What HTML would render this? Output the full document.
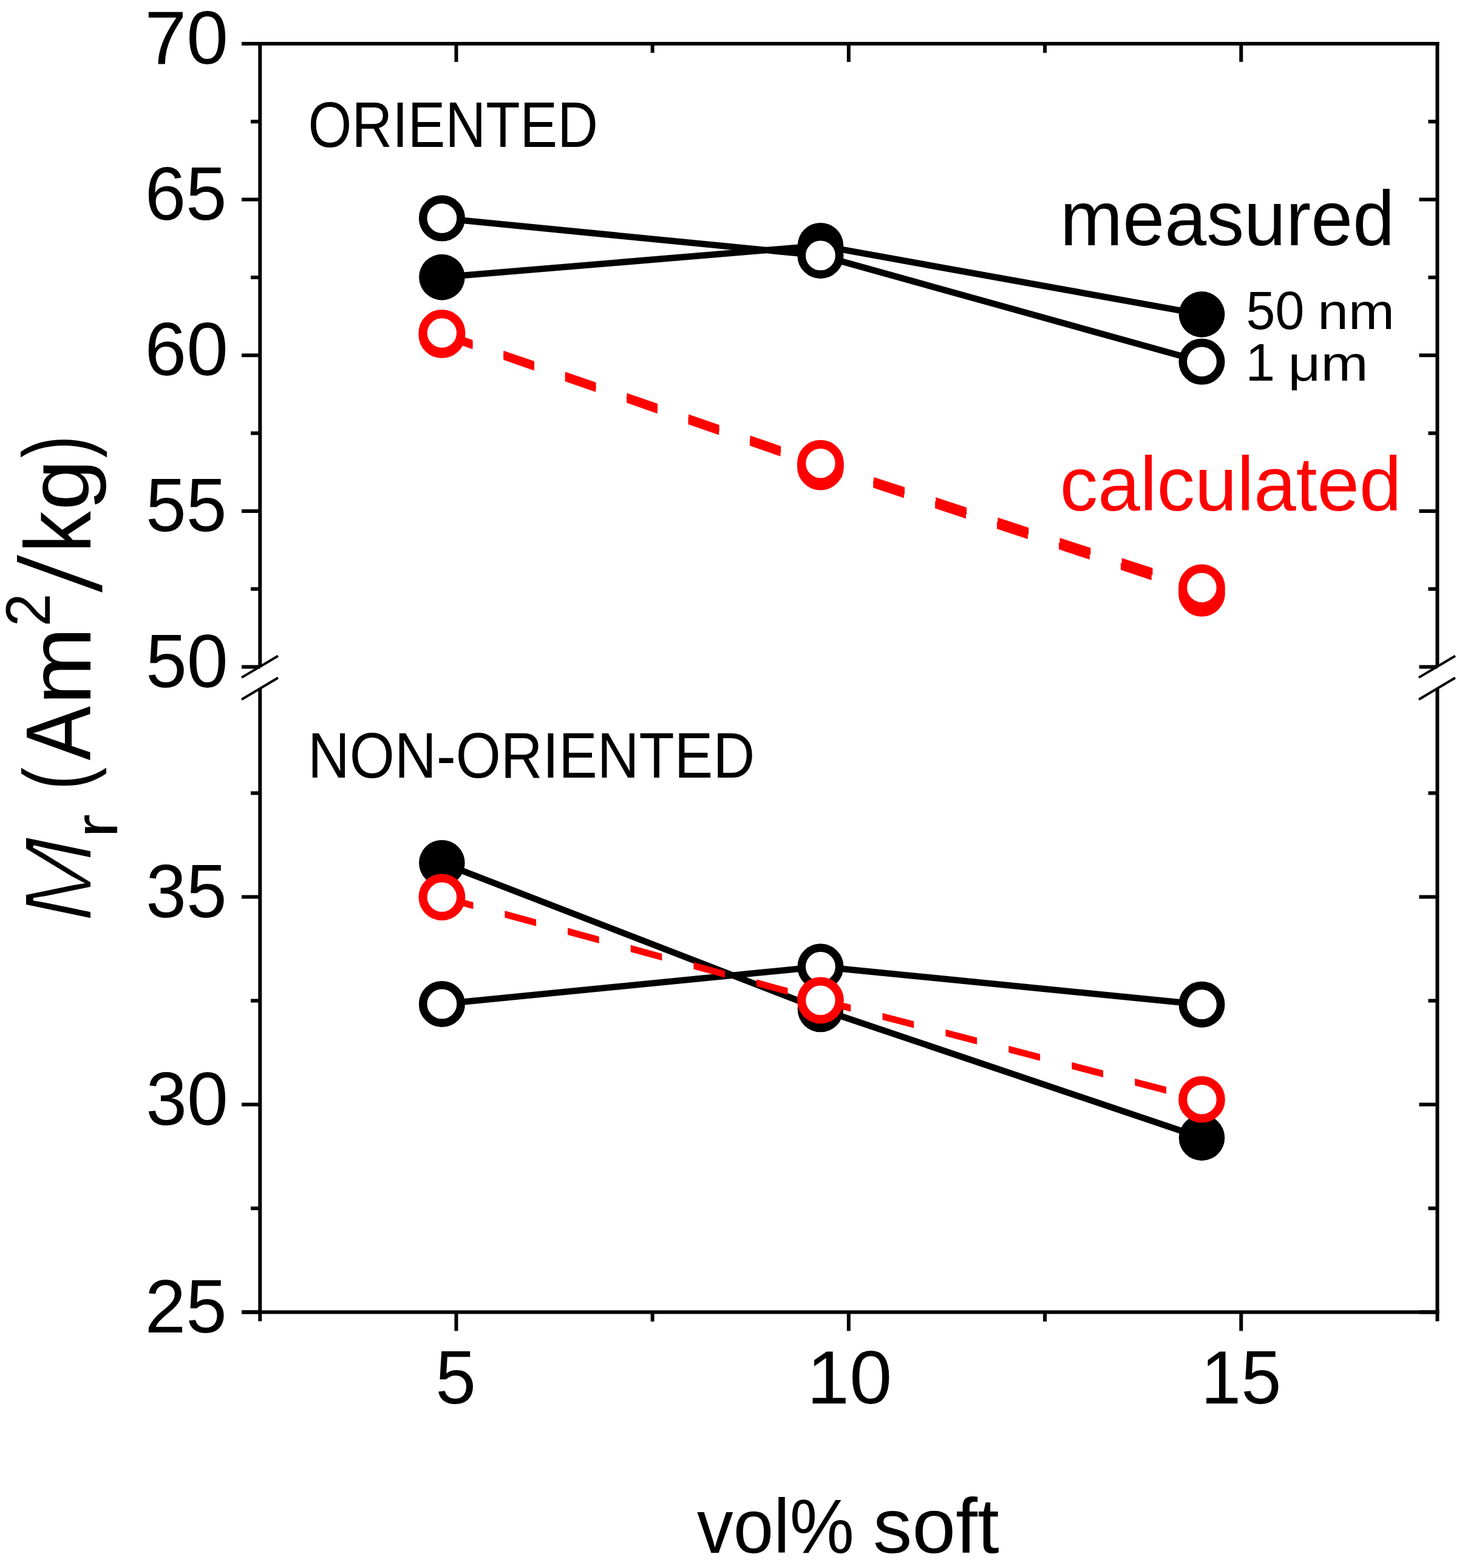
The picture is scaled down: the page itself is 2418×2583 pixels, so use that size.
<!DOCTYPE html>
<html><head><meta charset="utf-8"><title>Mr vs vol% soft</title>
<style>html,body{margin:0;padding:0;background:#fff;}body{width:2418px;height:2583px;overflow:hidden;}svg{display:block;}</style>
</head><body>
<svg width="2418" height="2583" viewBox="0 0 2418 2583">
<rect width="2418" height="2583" fill="#fff"/>
<line x1="428.30" y1="69.00" x2="428.30" y2="1098.60" stroke="#000" stroke-width="6" stroke-linecap="butt"/>
<line x1="428.30" y1="1134.50" x2="428.30" y2="2176.50" stroke="#000" stroke-width="6" stroke-linecap="butt"/>
<line x1="2367.50" y1="69.00" x2="2367.50" y2="1098.60" stroke="#000" stroke-width="6" stroke-linecap="butt"/>
<line x1="2367.50" y1="1134.50" x2="2367.50" y2="2176.50" stroke="#000" stroke-width="6" stroke-linecap="butt"/>
<line x1="398.00" y1="72.00" x2="2370.50" y2="72.00" stroke="#000" stroke-width="6" stroke-linecap="butt"/>
<line x1="398.00" y1="2161.50" x2="2370.50" y2="2161.50" stroke="#000" stroke-width="6" stroke-linecap="butt"/>
<line x1="398.00" y1="72.00" x2="428.30" y2="72.00" stroke="#000" stroke-width="6" stroke-linecap="butt"/>
<line x1="2337.50" y1="72.00" x2="2367.50" y2="72.00" stroke="#000" stroke-width="6" stroke-linecap="butt"/>
<line x1="398.00" y1="328.65" x2="428.30" y2="328.65" stroke="#000" stroke-width="6" stroke-linecap="butt"/>
<line x1="2337.50" y1="328.65" x2="2367.50" y2="328.65" stroke="#000" stroke-width="6" stroke-linecap="butt"/>
<line x1="398.00" y1="585.30" x2="428.30" y2="585.30" stroke="#000" stroke-width="6" stroke-linecap="butt"/>
<line x1="2337.50" y1="585.30" x2="2367.50" y2="585.30" stroke="#000" stroke-width="6" stroke-linecap="butt"/>
<line x1="398.00" y1="841.95" x2="428.30" y2="841.95" stroke="#000" stroke-width="6" stroke-linecap="butt"/>
<line x1="2337.50" y1="841.95" x2="2367.50" y2="841.95" stroke="#000" stroke-width="6" stroke-linecap="butt"/>
<line x1="398.00" y1="1098.60" x2="428.30" y2="1098.60" stroke="#000" stroke-width="6" stroke-linecap="butt"/>
<line x1="2337.50" y1="1098.60" x2="2367.50" y2="1098.60" stroke="#000" stroke-width="6" stroke-linecap="butt"/>
<line x1="413.00" y1="200.32" x2="428.30" y2="200.32" stroke="#000" stroke-width="6" stroke-linecap="butt"/>
<line x1="2352.50" y1="200.32" x2="2367.50" y2="200.32" stroke="#000" stroke-width="6" stroke-linecap="butt"/>
<line x1="413.00" y1="456.97" x2="428.30" y2="456.97" stroke="#000" stroke-width="6" stroke-linecap="butt"/>
<line x1="2352.50" y1="456.97" x2="2367.50" y2="456.97" stroke="#000" stroke-width="6" stroke-linecap="butt"/>
<line x1="413.00" y1="713.62" x2="428.30" y2="713.62" stroke="#000" stroke-width="6" stroke-linecap="butt"/>
<line x1="2352.50" y1="713.62" x2="2367.50" y2="713.62" stroke="#000" stroke-width="6" stroke-linecap="butt"/>
<line x1="413.00" y1="970.27" x2="428.30" y2="970.27" stroke="#000" stroke-width="6" stroke-linecap="butt"/>
<line x1="2352.50" y1="970.27" x2="2367.50" y2="970.27" stroke="#000" stroke-width="6" stroke-linecap="butt"/>
<line x1="398.00" y1="1477.50" x2="428.30" y2="1477.50" stroke="#000" stroke-width="6" stroke-linecap="butt"/>
<line x1="2337.50" y1="1477.50" x2="2367.50" y2="1477.50" stroke="#000" stroke-width="6" stroke-linecap="butt"/>
<line x1="398.00" y1="1819.50" x2="428.30" y2="1819.50" stroke="#000" stroke-width="6" stroke-linecap="butt"/>
<line x1="2337.50" y1="1819.50" x2="2367.50" y2="1819.50" stroke="#000" stroke-width="6" stroke-linecap="butt"/>
<line x1="398.00" y1="2161.50" x2="428.30" y2="2161.50" stroke="#000" stroke-width="6" stroke-linecap="butt"/>
<line x1="2337.50" y1="2161.50" x2="2367.50" y2="2161.50" stroke="#000" stroke-width="6" stroke-linecap="butt"/>
<line x1="413.00" y1="1306.50" x2="428.30" y2="1306.50" stroke="#000" stroke-width="6" stroke-linecap="butt"/>
<line x1="2352.50" y1="1306.50" x2="2367.50" y2="1306.50" stroke="#000" stroke-width="6" stroke-linecap="butt"/>
<line x1="413.00" y1="1648.50" x2="428.30" y2="1648.50" stroke="#000" stroke-width="6" stroke-linecap="butt"/>
<line x1="2352.50" y1="1648.50" x2="2367.50" y2="1648.50" stroke="#000" stroke-width="6" stroke-linecap="butt"/>
<line x1="413.00" y1="1990.50" x2="428.30" y2="1990.50" stroke="#000" stroke-width="6" stroke-linecap="butt"/>
<line x1="2352.50" y1="1990.50" x2="2367.50" y2="1990.50" stroke="#000" stroke-width="6" stroke-linecap="butt"/>
<line x1="751.50" y1="2161.50" x2="751.50" y2="2192.50" stroke="#000" stroke-width="6" stroke-linecap="butt"/>
<line x1="751.50" y1="72.00" x2="751.50" y2="102.00" stroke="#000" stroke-width="6" stroke-linecap="butt"/>
<line x1="1397.90" y1="2161.50" x2="1397.90" y2="2192.50" stroke="#000" stroke-width="6" stroke-linecap="butt"/>
<line x1="1397.90" y1="72.00" x2="1397.90" y2="102.00" stroke="#000" stroke-width="6" stroke-linecap="butt"/>
<line x1="2044.30" y1="2161.50" x2="2044.30" y2="2192.50" stroke="#000" stroke-width="6" stroke-linecap="butt"/>
<line x1="2044.30" y1="72.00" x2="2044.30" y2="102.00" stroke="#000" stroke-width="6" stroke-linecap="butt"/>
<line x1="1074.70" y1="2161.50" x2="1074.70" y2="2177.00" stroke="#000" stroke-width="6" stroke-linecap="butt"/>
<line x1="1074.70" y1="72.00" x2="1074.70" y2="87.00" stroke="#000" stroke-width="6" stroke-linecap="butt"/>
<line x1="1721.10" y1="2161.50" x2="1721.10" y2="2177.00" stroke="#000" stroke-width="6" stroke-linecap="butt"/>
<line x1="1721.10" y1="72.00" x2="1721.10" y2="87.00" stroke="#000" stroke-width="6" stroke-linecap="butt"/>
<line x1="398.00" y1="1116.10" x2="458.00" y2="1080.50" stroke="#000" stroke-width="4" stroke-linecap="butt"/>
<line x1="398.00" y1="1152.30" x2="458.00" y2="1116.50" stroke="#000" stroke-width="4" stroke-linecap="butt"/>
<line x1="2337.00" y1="1116.10" x2="2397.00" y2="1080.50" stroke="#000" stroke-width="4" stroke-linecap="butt"/>
<line x1="2337.00" y1="1152.30" x2="2397.00" y2="1116.50" stroke="#000" stroke-width="4" stroke-linecap="butt"/>
<polyline points="727.90,456.60 1351.50,404.70 1979.50,517.90" fill="none" stroke="#000" stroke-width="10.5" stroke-linejoin="round"/>
<circle cx="727.90" cy="456.60" r="37.8" fill="#000"/>
<circle cx="1351.50" cy="404.70" r="37.8" fill="#000"/>
<circle cx="1979.50" cy="517.90" r="37.8" fill="#000"/>
<polyline points="727.90,359.60 1351.50,420.90 1979.50,595.80" fill="none" stroke="#000" stroke-width="10.5" stroke-linejoin="round"/>
<circle cx="727.90" cy="359.60" r="31.2" fill="#fff" stroke="#000" stroke-width="13.6"/>
<circle cx="1351.50" cy="420.90" r="31.2" fill="#fff" stroke="#000" stroke-width="13.6"/>
<circle cx="1979.50" cy="595.80" r="31.2" fill="#fff" stroke="#000" stroke-width="13.6"/>
<polygon points="727.90,545.88 778.42,563.48 778.42,575.13 727.90,557.52" fill="#f00"/>
<polygon points="829.32,581.22 879.84,598.82 879.84,610.47 829.32,592.86" fill="#f00"/>
<polygon points="930.74,616.56 981.26,634.16 981.26,645.81 930.74,628.21" fill="#f00"/>
<polygon points="1032.16,651.90 1082.68,669.50 1082.68,681.15 1032.16,663.55" fill="#f00"/>
<polygon points="1133.58,687.24 1184.10,704.84 1184.10,716.49 1133.58,698.89" fill="#f00"/>
<polygon points="1234.99,722.58 1285.52,740.18 1285.52,751.83 1234.99,734.23" fill="#f00"/>
<polygon points="1336.41,757.92 1351.50,763.18 1351.50,774.82 1336.41,769.57" fill="#f00"/>
<polygon points="1351.50,763.21 1387.12,775.02 1387.12,786.61 1351.50,774.79" fill="#f00"/>
<polygon points="1438.28,791.99 1489.05,808.83 1489.05,820.42 1438.28,803.58" fill="#f00"/>
<polygon points="1540.21,825.80 1590.99,842.64 1590.99,854.23 1540.21,837.39" fill="#f00"/>
<polygon points="1642.15,859.61 1692.93,876.45 1692.93,888.04 1642.15,871.20" fill="#f00"/>
<polygon points="1744.09,893.42 1794.87,910.27 1794.87,921.86 1744.09,905.01" fill="#f00"/>
<polygon points="1846.03,927.24 1896.81,944.08 1896.81,955.67 1846.03,938.82" fill="#f00"/>
<polygon points="1947.97,961.05 1979.50,971.51 1979.50,983.09 1947.97,972.64" fill="#f00"/>
<circle cx="727.90" cy="551.70" r="31.3" fill="#fff" stroke="#f00" stroke-width="14.2"/>
<circle cx="1351.50" cy="769.00" r="31.3" fill="#fff" stroke="#f00" stroke-width="14.2"/>
<circle cx="1979.50" cy="977.30" r="31.3" fill="#fff" stroke="#f00" stroke-width="14.2"/>
<polygon points="727.90,542.68 778.49,560.10 778.49,571.73 727.90,554.32" fill="#f00"/>
<polygon points="829.45,577.65 880.04,595.06 880.04,606.70 829.45,589.28" fill="#f00"/>
<polygon points="931.00,612.61 981.59,630.02 981.59,641.66 931.00,624.24" fill="#f00"/>
<polygon points="1032.55,647.57 1083.14,664.99 1083.14,676.62 1032.55,659.20" fill="#f00"/>
<polygon points="1134.10,682.53 1184.69,699.95 1184.69,711.58 1134.10,694.17" fill="#f00"/>
<polygon points="1235.65,717.50 1286.23,734.91 1286.23,746.55 1235.65,729.13" fill="#f00"/>
<polygon points="1337.20,752.46 1351.50,757.38 1351.50,769.02 1337.20,764.09" fill="#f00"/>
<polygon points="1351.50,757.41 1387.98,769.31 1387.98,780.88 1351.50,768.99" fill="#f00"/>
<polygon points="1439.23,786.02 1490.09,802.61 1490.09,814.18 1439.23,797.59" fill="#f00"/>
<polygon points="1541.34,819.32 1592.20,835.91 1592.20,847.48 1541.34,830.89" fill="#f00"/>
<polygon points="1643.44,852.62 1694.31,869.21 1694.31,880.78 1643.44,864.19" fill="#f00"/>
<polygon points="1745.55,885.92 1796.41,902.51 1796.41,914.08 1745.55,897.49" fill="#f00"/>
<polygon points="1847.66,919.22 1898.52,935.81 1898.52,947.38 1847.66,930.79" fill="#f00"/>
<polygon points="1949.77,952.52 1979.50,962.21 1979.50,973.79 1949.77,964.09" fill="#f00"/>
<circle cx="727.90" cy="548.50" r="31.3" fill="#fff" stroke="#f00" stroke-width="14.2"/>
<circle cx="1351.50" cy="763.20" r="31.3" fill="#fff" stroke="#f00" stroke-width="14.2"/>
<circle cx="1979.50" cy="968.00" r="31.3" fill="#fff" stroke="#f00" stroke-width="14.2"/>
<polyline points="727.90,1421.50 1351.50,1662.50 1979.50,1874.20" fill="none" stroke="#000" stroke-width="10.5" stroke-linejoin="round"/>
<circle cx="727.90" cy="1421.50" r="37.8" fill="#000"/>
<circle cx="1351.50" cy="1662.50" r="37.8" fill="#000"/>
<circle cx="1979.50" cy="1874.20" r="37.8" fill="#000"/>
<polyline points="727.90,1653.90 1351.50,1592.50 1979.50,1654.70" fill="none" stroke="#000" stroke-width="10.5" stroke-linejoin="round"/>
<circle cx="727.90" cy="1653.90" r="31.2" fill="#fff" stroke="#000" stroke-width="13.6"/>
<circle cx="1351.50" cy="1592.50" r="31.2" fill="#fff" stroke="#000" stroke-width="13.6"/>
<circle cx="1979.50" cy="1654.70" r="31.2" fill="#fff" stroke="#000" stroke-width="13.6"/>
<polygon points="727.90,1472.10 779.52,1486.17 779.52,1497.57 727.90,1483.50" fill="#f00"/>
<polygon points="831.52,1500.35 883.14,1514.42 883.14,1525.82 831.52,1511.75" fill="#f00"/>
<polygon points="935.14,1528.59 986.75,1542.67 986.75,1554.07 935.14,1540.00" fill="#f00"/>
<polygon points="1038.76,1556.84 1090.37,1570.91 1090.37,1582.31 1038.76,1568.24" fill="#f00"/>
<polygon points="1142.37,1585.09 1193.99,1599.16 1193.99,1610.56 1142.37,1596.49" fill="#f00"/>
<polygon points="1245.99,1613.34 1297.61,1627.41 1297.61,1638.81 1245.99,1624.74" fill="#f00"/>
<polygon points="1349.61,1641.58 1351.50,1642.10 1351.50,1653.50 1349.61,1652.99" fill="#f00"/>
<polygon points="1351.50,1642.12 1401.38,1655.10 1401.38,1666.46 1351.50,1653.48" fill="#f00"/>
<polygon points="1453.55,1668.67 1505.32,1682.14 1505.32,1693.51 1453.55,1680.03" fill="#f00"/>
<polygon points="1557.48,1695.71 1609.26,1709.18 1609.26,1720.55 1557.48,1707.08" fill="#f00"/>
<polygon points="1661.42,1722.76 1713.20,1736.23 1713.20,1747.59 1661.42,1734.12" fill="#f00"/>
<polygon points="1765.36,1749.80 1817.14,1763.27 1817.14,1774.64 1765.36,1761.17" fill="#f00"/>
<polygon points="1869.30,1776.84 1921.08,1790.32 1921.08,1801.68 1869.30,1788.21" fill="#f00"/>
<polygon points="1973.24,1803.89 1979.50,1805.52 1979.50,1816.88 1973.24,1815.25" fill="#f00"/>
<circle cx="727.90" cy="1477.80" r="31.3" fill="#fff" stroke="#f00" stroke-width="14.2"/>
<circle cx="1351.50" cy="1647.80" r="31.3" fill="#fff" stroke="#f00" stroke-width="14.2"/>
<circle cx="1979.50" cy="1811.20" r="31.3" fill="#fff" stroke="#f00" stroke-width="14.2"/>
<text transform="translate(238.47,105.00) scale(0.9879,1)" font-family="Liberation Sans, sans-serif" font-size="125.00" fill="#000">70</text>
<text transform="translate(238.64,361.65) scale(0.9706,1)" font-family="Liberation Sans, sans-serif" font-size="125.00" fill="#000">65</text>
<text transform="translate(238.53,618.30) scale(0.9874,1)" font-family="Liberation Sans, sans-serif" font-size="125.00" fill="#000">60</text>
<text transform="translate(239.99,874.95) scale(0.9605,1)" font-family="Liberation Sans, sans-serif" font-size="125.00" fill="#000">55</text>
<text transform="translate(239.91,1131.60) scale(0.9771,1)" font-family="Liberation Sans, sans-serif" font-size="125.00" fill="#000">50</text>
<text transform="translate(240.24,1510.50) scale(0.9587,1)" font-family="Liberation Sans, sans-serif" font-size="125.00" fill="#000">35</text>
<text transform="translate(240.16,1852.50) scale(0.9753,1)" font-family="Liberation Sans, sans-serif" font-size="125.00" fill="#000">30</text>
<text transform="translate(238.70,2194.50) scale(0.9702,1)" font-family="Liberation Sans, sans-serif" font-size="125.00" fill="#000">25</text>
<text transform="translate(717.19,2311.50) scale(0.9719,1)" font-family="Liberation Sans, sans-serif" font-size="123.69" fill="#000">5</text>
<text transform="translate(1329.10,2311.50) scale(1.0184,1)" font-family="Liberation Sans, sans-serif" font-size="123.69" fill="#000">10</text>
<text transform="translate(1977.92,2311.50) scale(0.9637,1)" font-family="Liberation Sans, sans-serif" font-size="123.69" fill="#000">15</text>
<text transform="translate(1147.99,2558.00) scale(0.9464,1)" font-family="Liberation Sans, sans-serif" font-size="126.39" fill="#000">vol%</text>
<text transform="translate(1438.11,2558.00) scale(1.0128,1)" font-family="Liberation Sans, sans-serif" font-size="127.19" fill="#000">soft</text>
<text transform="translate(507.62,241.80) scale(0.8754,1)" font-family="Liberation Sans, sans-serif" font-size="105.53" fill="#000">ORIENTED</text>
<text transform="translate(506.98,1281.00) scale(0.9063,1)" font-family="Liberation Sans, sans-serif" font-size="105.23" fill="#000">NON-ORIENTED</text>
<text transform="translate(1745.97,404.40) scale(0.9754,1)" font-family="Liberation Sans, sans-serif" font-size="127.11" fill="#000">measured</text>
<text transform="translate(1745.69,840.60) scale(0.9904,1)" font-family="Liberation Sans, sans-serif" font-size="126.24" fill="#f00">calculated</text>
<text transform="translate(2052.54,542.00) scale(0.9721,1)" font-family="Liberation Sans, sans-serif" font-size="88.81" fill="#000">50</text>
<text transform="translate(2170.34,542.00) scale(1.0855,1)" font-family="Liberation Sans, sans-serif" font-size="84.00" fill="#000">nm</text>
<text x="2051.47" y="627.40" font-family="Liberation Sans, sans-serif" font-size="87.50" fill="#000">1</text>
<text transform="translate(2121.48,627.40) scale(1.1605,1)" font-family="Liberation Sans, sans-serif" font-size="80.84" fill="#000">μm</text>
<text transform="translate(148.5,1512.7) rotate(-90)" font-family="Liberation Sans, sans-serif" fill="#000"><tspan x="-7.26" y="2.00" font-size="159.16" textLength="142.36" lengthAdjust="spacingAndGlyphs" font-style="italic" stroke="#fff" stroke-width="4">M</tspan><tspan x="132.36" y="44.50" font-size="99.61" textLength="39.29" lengthAdjust="spacingAndGlyphs">r</tspan><tspan x="200" y="0" font-size="150"> </tspan><tspan x="211.38" y="-4.64" font-size="150.92" textLength="37.18" lengthAdjust="spacingAndGlyphs">(</tspan><tspan x="260.24" y="0.00" font-size="153.05" textLength="89.32" lengthAdjust="spacingAndGlyphs">A</tspan><tspan x="351.46" y="0.00" font-size="144.96" textLength="128.40" lengthAdjust="spacingAndGlyphs">m</tspan><tspan x="480.44" y="-66.30" font-size="103.40" textLength="54.81" lengthAdjust="spacingAndGlyphs">2</tspan><tspan x="544.84" y="18.63" font-size="191.05" textLength="40.91" lengthAdjust="spacingAndGlyphs" font-style="italic">/</tspan><tspan x="601.95" y="0.00" font-size="153.88" textLength="68.65" lengthAdjust="spacingAndGlyphs">k</tspan><tspan x="672.06" y="-2.15" font-size="141.91" textLength="83.97" lengthAdjust="spacingAndGlyphs">g</tspan><tspan x="758.45" y="-4.76" font-size="151.45" textLength="36.93" lengthAdjust="spacingAndGlyphs">)</tspan></text>
</svg>
</body></html>
